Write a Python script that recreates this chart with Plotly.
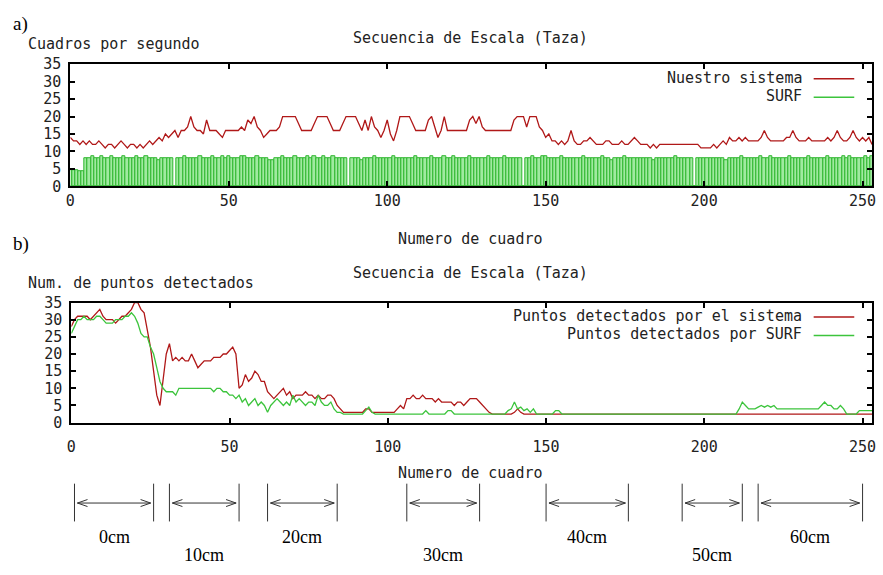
import plotly.graph_objects as go

# ---------------- data ----------------
top_red = [
    14, 13, 13, 12, 13, 12, 13, 12, 12, 13,
    12, 11, 12, 12, 11, 12, 13, 12, 11, 12,
    12, 11, 12, 11, 12, 13, 12, 13, 14, 13,
    15, 14, 15, 16, 14, 16, 16, 17, 20, 17,
    16, 16, 15, 19, 16, 16, 16, 15, 14, 16,
    16, 16, 16, 16, 17, 16, 19, 18, 20, 17,
    16, 14, 15, 16, 16, 16, 17, 20, 20, 20,
    20, 20, 18, 16, 16, 16, 16, 18, 20, 20,
    20, 20, 18, 16, 16, 16, 18, 20, 20, 20,
    20, 18, 16, 19, 16, 20, 17, 16, 14, 16,
    19, 15, 13, 16, 20, 20, 20, 20, 18, 16,
    16, 16, 16, 19, 20, 17, 14, 16, 20, 16,
    16, 16, 16, 16, 16, 16, 19, 20, 18, 20,
    17, 16, 16, 16, 16, 16, 16, 16, 16, 16,
    19, 20, 20, 20, 17, 20, 20, 20, 17, 16,
    14, 15, 13, 13, 12, 13, 12, 13, 16, 13,
    12, 12, 13, 13, 14, 13, 12, 12, 12, 13,
    13, 12, 12, 12, 13, 12, 12, 13, 14, 13,
    12, 12, 12, 11, 12, 11, 12, 12, 12, 12,
    12, 12, 12, 12, 12, 12, 12, 12, 12, 11,
    11, 11, 11, 12, 11, 12, 13, 12, 14, 13,
    13, 14, 13, 14, 13, 13, 13, 13, 14, 16,
    14, 13, 13, 13, 13, 13, 14, 14, 16, 14,
    13, 13, 13, 14, 13, 13, 13, 13, 13, 14,
    13, 14, 16, 14, 13, 13, 14, 16, 14, 13,
    14, 13, 14, 12,
]

top_green = [
    4.5, 4.5, 4.5, 4.2, 4.2, 8, 8, 8.5, 8, 8,
    8.5, 8, 8, 8.5, 8, 8, 8, 8.5, 8, 8,
    8, 8.5, 8, 8, 8.5, 8, 8, 8, 7.5, 8,
    8, 8, 8, 0, 8, 8, 8.5, 8, 8, 8,
    8, 8.5, 8, 8, 8, 8.5, 8, 8, 8.5, 8,
    8.5, 8, 8, 8, 8.5, 8.5, 8, 8, 8, 8.5,
    8, 8, 8, 7.5, 7.5, 8, 8, 8.5, 8, 8,
    8, 8.5, 8, 8, 8, 8.5, 8, 8.5, 8, 8,
    8.5, 8, 8, 8.5, 8, 8, 8, 8, 0, 8,
    8, 8, 7.5, 8, 8, 8, 8.5, 8, 8, 8,
    8, 8, 8.5, 8, 8, 8, 8, 8, 8, 8.5,
    8, 8, 8, 8, 8.5, 8, 8, 8, 8.5, 8,
    8, 8.5, 8, 8, 8, 8, 8.5, 8, 8, 8,
    8, 8, 8.5, 8, 8, 8, 8, 8.5, 8, 8,
    8, 8, 8, 0, 8, 8, 8.5, 8, 8, 8.5,
    8.5, 8, 8, 8, 8, 8.5, 8, 8, 8, 8,
    8, 8, 8.5, 8, 8, 8, 8, 8, 8.5, 8,
    8, 7.5, 8, 8, 8, 8.5, 8, 8, 8, 8,
    8, 8, 8, 8, 7.5, 8, 8, 8, 8, 8,
    8, 8.5, 8, 8, 8, 8, 8, 0, 8, 8,
    8, 8, 8, 8, 8, 8, 8, 7.5, 8, 8,
    8, 8, 8.5, 8, 8, 8, 8, 8, 8.5, 8,
    8, 8.5, 8, 8, 8, 8, 8, 8.5, 8, 8,
    8, 8, 8, 8.5, 8, 8, 8, 8, 8, 8.5,
    8, 8, 8, 8, 8.5, 8, 8.5, 8, 8, 8,
    8, 8.5, 8, 8.5,
]

bot_red = [
    28, 30, 31, 31, 31, 31, 30, 31, 32, 33,
    31, 30, 30, 30, 29, 30, 31, 31, 32, 33,
    35, 35, 33, 32, 27, 22, 15, 8, 5, 12,
    20, 23, 18, 19, 18, 19, 18, 18, 20, 18,
    16, 17, 18, 18, 18, 19, 19, 19, 20, 20,
    21, 22, 20, 10, 11, 14, 12, 13, 15, 14,
    12, 12, 9, 8, 7, 8, 9, 10, 8, 9,
    7, 8, 8, 8, 9, 8, 8, 7, 8, 7,
    7, 8, 8, 7, 5, 4, 3, 3, 3, 3,
    3, 3, 3, 4, 4, 3, 3, 3, 3, 3,
    3, 3, 3, 4, 5, 4, 7, 7, 8, 7,
    7, 8, 7, 7, 7, 6, 7, 6, 6, 6,
    6, 5, 6, 6, 5, 6, 7, 7, 7, 6,
    5, 4, 3, 2.5, 2.5, 2.5, 2.5, 2.5, 2.5, 2.5,
    3, 4, 3, 2.5, 2.5, 2.5, 2.5, 2.5, 2.5, 2.5,
    2.5, 2.5, 2.5, 2.5, 2.5, 2.5, 2.5, 2.5, 2.5, 2.5,
    2.5, 2.5, 2.5, 2.5, 2.5, 2.5, 2.5, 2.5, 2.5, 2.5,
    2.5, 2.5, 2.5, 2.5, 2.5, 2.5, 2.5, 2.5, 2.5, 2.5,
    2.5, 2.5, 2.5, 2.5, 2.5, 2.5, 2.5, 2.5, 2.5, 2.5,
    2.5, 2.5, 2.5, 2.5, 2.5, 2.5, 2.5, 2.5, 2.5, 2.5,
    2.5, 2.5, 2.5, 2.5, 2.5, 2.5, 2.5, 2.5, 2.5, 2.5,
    2.5, 2.5, 2.5, 2.5, 2.5, 2.5, 2.5, 2.5, 2.5, 2.5,
    2.5, 2.5, 2.5, 2.5, 2.5, 2.5, 2.5, 2.5, 2.5, 2.5,
    2.5, 2.5, 2.5, 2.5, 2.5, 2.5, 2.5, 2.5, 2.5, 2.5,
    2.5, 2.5, 2.5, 2.5, 2.5, 2.5, 2.5, 2.5, 2.5, 2.5,
    2.5, 2.5, 2.5, 2.5,
]

bot_green = [
    26, 28, 30, 30, 31, 30, 30, 30, 31, 31,
    30, 29, 29, 29, 30, 30, 30, 31, 31, 32,
    31, 29, 26, 25, 25, 22, 20, 16, 12, 10,
    9, 9, 9, 8, 10, 10, 10, 10, 10, 10,
    10, 10, 10, 10, 10, 9, 10, 10, 9, 9,
    8, 8, 7, 8, 6, 7, 5, 6, 7, 5,
    6, 5, 3, 5, 6, 7, 6, 5, 6, 5,
    8, 6, 7, 6, 5, 6, 6, 5, 8, 6,
    5, 5, 6, 4, 3, 3, 2.5, 2.5, 2.5, 2.5,
    2.5, 2.5, 2.5, 3.5, 4.5, 3, 2.5, 2.5, 2.5, 2.5,
    2.5, 2.5, 2.5, 2.5, 2.5, 2.5, 2.5, 2.5, 2.5, 2.5,
    2.5, 2.5, 3.5, 2.5, 2.5, 2.5, 2.5, 2.5, 2.5, 3.5,
    3.5, 2.5, 2.5, 2.5, 2.5, 2.5, 2.5, 2.5, 2.5, 2.5,
    2.5, 2.5, 2.5, 2.5, 2.5, 2.5, 2.5, 2.5, 3.5, 4,
    6, 4, 4.5, 3.5, 4, 3, 4, 2.5, 2.5, 2.5,
    2.5, 2.5, 2.5, 3.5, 3.5, 2.5, 2.5, 2.5, 2.5, 2.5,
    2.5, 2.5, 2.5, 2.5, 2.5, 2.5, 2.5, 2.5, 2.5, 2.5,
    2.5, 2.5, 2.5, 2.5, 2.5, 2.5, 2.5, 2.5, 2.5, 2.5,
    2.5, 2.5, 2.5, 2.5, 2.5, 2.5, 2.5, 2.5, 2.5, 2.5,
    2.5, 2.5, 2.5, 2.5, 2.5, 2.5, 2.5, 2.5, 2.5, 2.5,
    2.5, 2.5, 2.5, 2.5, 2.5, 2.5, 2.5, 2.5, 2.5, 2.5,
    2.5, 4, 6, 5, 4, 4, 4, 4.5, 5, 4.5,
    5, 4.5, 5, 4, 4, 4, 4, 4, 4, 4,
    4, 4, 4, 4, 4, 4, 4, 5, 6, 5,
    5, 4, 4, 5, 4, 2.5, 2.5, 2.5, 2.5, 3.5,
    3.5, 3.5, 3.5, 3.5,
]

x_ticks = [0, 50, 100, 150, 200, 250]
y_ticks = [0, 5, 10, 15, 20, 25, 30, 35]

seg_start = [1, 31, 62, 106, 150, 193, 217]
seg_end = [26, 53, 84, 129, 176, 212, 250]
seg_labels = ["0cm", "10cm", "20cm", "30cm", "40cm", "50cm", "60cm"]

# ---------------- layout helpers ----------------
W, H = 883, 575
def px(x):
    return x / W
def py(y):
    return 1 - y / H

MONO = "DejaVu Sans Mono"
SERIF = "Liberation Serif"
RED = "#b01818"
GREEN = "#3cc43c"
BAR_FILL = "#a0eaa0"
BAR_EDGE = "#2eb62e"
DARK = "#333333"

fig = go.Figure()
fig.add_trace(go.Scatter(x=list(range(len(top_red))), y=top_red, mode="lines",
                         line=dict(color=RED, width=1.3), xaxis="x", yaxis="y",
                         name="Nuestro sistema", showlegend=False))
fig.add_trace(go.Bar(x=list(range(len(top_green))), y=top_green, width=1,
                     marker=dict(color=BAR_FILL, line=dict(color=BAR_EDGE, width=1)),
                     xaxis="x", yaxis="y", name="SURF", showlegend=False))
fig.add_trace(go.Scatter(x=list(range(len(bot_red))), y=bot_red, mode="lines",
                         line=dict(color=RED, width=1.3), xaxis="x2", yaxis="y2",
                         name="Puntos detectados por el sistema", showlegend=False))
fig.add_trace(go.Scatter(x=list(range(len(bot_green))), y=bot_green, mode="lines",
                         line=dict(color=GREEN, width=1.3), xaxis="x2", yaxis="y2",
                         name="Puntos detectados por SURF", showlegend=False))

axis_common = dict(showline=True, linecolor="black", linewidth=2, mirror="ticks",
                   ticks="inside", ticklen=5, tickwidth=2, tickcolor="black",
                   showgrid=False, zeroline=False,
                   tickfont=dict(family=MONO, size=15, color="#222222"))

fig.update_layout(
    width=W, height=H,
    margin=dict(l=0, r=0, t=0, b=0),
    paper_bgcolor="white", plot_bgcolor="white",
    bargap=0,
    xaxis=dict(domain=[px(66), px(876)], range=[0, 253], tickvals=x_ticks,
               anchor="y", ticklabelstandoff=0, **axis_common),
    yaxis=dict(domain=[py(183), py(57)], range=[0, 35], tickvals=y_ticks,
               anchor="x", ticklabelstandoff=4, **axis_common),
    xaxis2=dict(domain=[px(67), px(876)], range=[0, 253], tickvals=x_ticks,
                anchor="y2", ticklabelstandoff=9, **axis_common),
    yaxis2=dict(domain=[py(427), py(303)], range=[0, 35], tickvals=y_ticks,
                anchor="x2", ticklabelstandoff=4, **axis_common),
)

annotations = []
def txt(text, x, y, xanchor="center", family=MONO, size=15, color="#222222"):
    annotations.append(dict(text=text, x=px(x), y=py(y), xref="paper", yref="paper",
                            xanchor=xanchor, yanchor="middle", showarrow=False,
                            font=dict(family=family, size=size, color=color)))

txt("a)", 6, 15, xanchor="left", family=SERIF, size=19, color="black")
txt("b)", 6, 243, xanchor="left", family=SERIF, size=19, color="black")
txt("Secuencia de Escala (Taza)", 470, 30)
txt("Secuencia de Escala (Taza)", 470, 273)
txt("Cuadros por segundo", 21, 36, xanchor="left")
txt("Num. de puntos detectados", 21, 283, xanchor="left")
txt("Numero de cuadro", 470, 237)
txt("Numero de cuadro", 470, 479)
txt("Nuestro sistema", 807, 71, xanchor="right")
txt("SURF", 807, 90, xanchor="right")
txt("Puntos detectados por el sistema", 807, 317, xanchor="right")
txt("Puntos detectados por SURF", 807, 336, xanchor="right")

shapes = []
# legend samples
for yy, col in [(72, RED), (91, GREEN), (318, RED), (337, GREEN)]:
    shapes.append(dict(type="line", xref="paper", yref="paper", x0=px(817), x1=px(858),
                       y0=py(yy), y1=py(yy), line=dict(color=col, width=1.5)))

# distance segments below the lower chart
for i, (s, e, lab) in enumerate(zip(seg_start, seg_end, seg_labels)):
    for xv in (s, e):
        shapes.append(dict(type="line", xref="x2", yref="paper", x0=xv, x1=xv,
                           y0=py(529), y1=py(490), line=dict(color=DARK, width=1)))
    shapes.append(dict(type="line", xref="x2", yref="paper", x0=s + 0.9, x1=e - 0.9,
                       y0=py(510), y1=py(510), line=dict(color=DARK, width=1)))
    shapes.append(dict(type="path", xref="x2", yref="paper", xsizemode="pixel",
                       ysizemode="pixel", xanchor=s, yanchor=py(510),
                       path="M 13,-3.5 L 3,0 L 13,3.5", line=dict(color=DARK, width=1)))
    shapes.append(dict(type="path", xref="x2", yref="paper", xsizemode="pixel",
                       ysizemode="pixel", xanchor=e, yanchor=py(510),
                       path="M -13,-3.5 L -3,0 L -13,3.5", line=dict(color=DARK, width=1)))
    annotations.append(dict(text=lab, x=(s + e) / 2, xref="x2",
                            y=py(545 if i % 2 == 0 else 564), yref="paper",
                            xanchor="center", yanchor="middle", showarrow=False,
                            font=dict(family=SERIF, size=18, color="black")))

fig.update_layout(annotations=annotations, shapes=shapes)
fig.write_html("out.html")
